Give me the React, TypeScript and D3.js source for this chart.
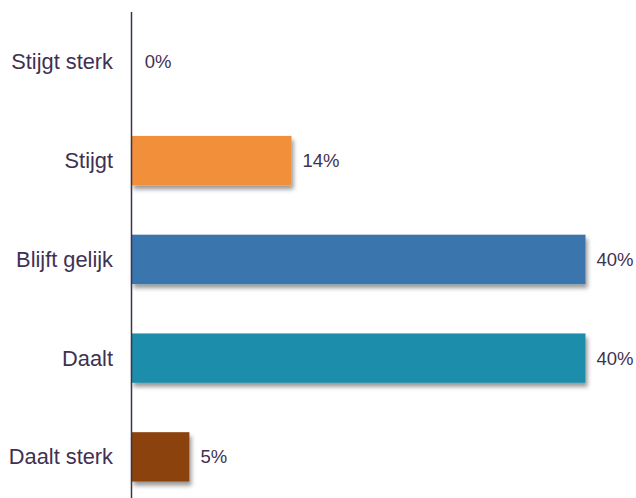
import * as d3 from 'd3';
import * as React from 'react';

const categories = ['Stijgt sterk', 'Stijgt', 'Blijft gelijk', 'Daalt', 'Daalt sterk'];
const values = [0.2, 14.1, 40, 40, 5.1];
const valueLabels = ['0%', '14%', '40%', '40%', '5%'];
const barColors = ['#F18F3B', '#F18F3B', '#3A74AD', '#1E8DAA', '#8B4309'];

const width = 636;
const height = 498;
const axisX = 131.5;
const textColor = '#3F3151';

export default function App() {
  const x = d3.scaleLinear().domain([0, 40]).range([axisX, 585.5]);
  const y = d3.scaleBand<string>()
    .domain(categories)
    .range([12.5, 12.5 + 5 * 98.75])
    .paddingInner(0.5)
    .paddingOuter(0.25);

  return (
    <svg
      width={width}
      height={height}
      style={{ position: 'absolute', left: 0, top: 0, background: '#fff' }}
      fontFamily="'Liberation Sans', Arial, sans-serif"
    >
      <defs>
        <filter id='shadow' x='-10%' y='-30%' width='130%' height='180%'>
          <feDropShadow dx={2} dy={4} stdDeviation={2.2} floodColor='#000' floodOpacity={0.4} />
        </filter>
      </defs>
      {categories.map((c, i) => {
        const yc = y(c)! + y.bandwidth() / 2;
        return (
          <g key={c}>
            {values[i] > 0.5 && (
              <rect
                x={axisX}
                y={y(c)}
                width={x(values[i]) - axisX}
                height={y.bandwidth()}
                fill={barColors[i]}
                filter='url(#shadow)'
              />
            )}
            <text x={113} y={yc} textAnchor='end' dominantBaseline='central'
              fontSize={21.8} fill={textColor}>{c}</text>
            <text x={x(values[i]) + 11} y={yc} dominantBaseline='central'
              fontSize={18.5} fill={textColor}>{valueLabels[i]}</text>
          </g>
        );
      })}
      <line x1={axisX} x2={axisX} y1={12} y2={height} stroke={textColor} strokeWidth={1.5} />
    </svg>
  );
}
